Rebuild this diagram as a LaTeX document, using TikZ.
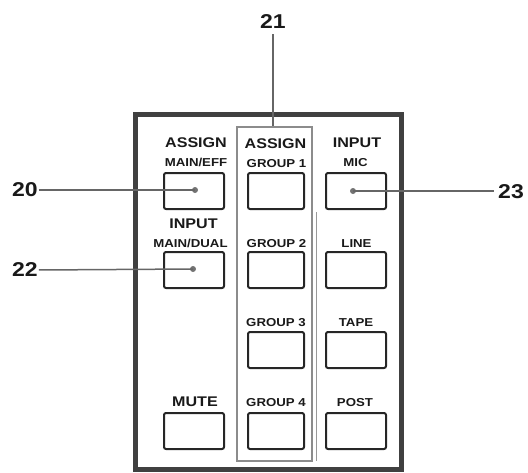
\documentclass[tikz,border=0pt]{standalone}
\usepackage{fontspec}
\setmainfont{Liberation Sans}[FakeStretch=1.15]
\begin{document}
\begin{tikzpicture}[x=1pt,y=-1pt,
  panel/.style={draw=black!75, line width=5pt, minimum width=266pt, minimum height=355pt, inner sep=0},
  grp/.style={draw=black!45, line width=2.5pt, minimum width=75pt, minimum height=334pt, inner sep=0},
  btn/.style={draw=black!85, line width=2pt, rounded corners=2pt, minimum height=36pt, inner sep=0},
  big/.style={font=\fontsize{14}{14}\selectfont\bfseries, anchor=base, inner sep=0, text=black!90},
  small/.style={font=\fontsize{11.5}{11.5}\selectfont\bfseries, anchor=base, inner sep=0, text=black!90},
  num/.style={font=\fontsize{20}{20}\selectfont\bfseries, inner sep=0, text=black!90},
  lead/.style={draw=black!60, line width=1.5pt},
  dotc/.style={circle, fill=black!55, minimum size=6pt, inner sep=0}]
\useasboundingbox (0,0) rectangle (528,472);
% panel and group frame
\node[panel] (panel) at (268,291.5) {};
\node[grp] (grp) at (274.5,294) {};
\draw[draw=black!40, line width=1pt] (316,212) -- (316,461);
% labels column 1
\node[big]   (lA1) at (196,147) {ASSIGN};
\node[small] (lME) at (196,166.5) {MAIN/EFF};
\node[big]   (lI1) at (193.5,228) {INPUT};
\node[small] (lMD) at (190.5,247) {MAIN/DUAL};
\node[big]   (lMU) at (195,406.5) {MUTE};
% labels column 2
\node[big]   (lA2) at (275.5,148) {ASSIGN};
\node[small] (lG1) at (276.5,167) {GROUP 1};
\node[small] (lG2) at (276.5,247) {GROUP 2};
\node[small] (lG3) at (276,326.5) {GROUP 3};
\node[small] (lG4) at (276,406.5) {GROUP 4};
% labels column 3
\node[big]   (lI3) at (357,147) {INPUT};
\node[small] (lMI) at (355.5,166) {MIC};
\node[small] (lLI) at (356.5,247) {LINE};
\node[small] (lTA) at (356,326.5) {TAPE};
\node[small] (lPO) at (355,406.5) {POST};
% buttons
\node[btn, minimum width=60pt] (bME) at (194,191) {};
\node[btn, minimum width=60pt] (bMD) at (194,270) {};
\node[btn, minimum width=60pt] (bMU) at (194,431) {};
\node[btn, minimum width=56pt] (bG1) at (276,191) {};
\node[btn, minimum width=56pt] (bG2) at (276,270) {};
\node[btn, minimum width=56pt] (bG3) at (276,350) {};
\node[btn, minimum width=56pt] (bG4) at (276,431) {};
\node[btn, minimum width=60pt] (bMI) at (356,191) {};
\node[btn, minimum width=60pt] (bLI) at (356,270) {};
\node[btn, minimum width=60pt] (bTA) at (356,350) {};
\node[btn, minimum width=60pt] (bPO) at (356,431) {};
% reference numbers
\node[num] (n20) at (25,190) {20};
\node[num] (n22) at (25,270) {22};
\node[num] (n23) at (511,192) {23};
\node[num] (n21) at (273,22) {21};
% leader dots
\node[dotc] (d20) at (195,190) {};
\node[dotc] (d22) at (193,269) {};
\node[dotc] (d23) at (353,191) {};
% leaders
\draw[lead, shorten <=1pt] (n20.east) -- (d20.center);
\draw[lead, shorten <=1pt] (n22.east) -- (d22.center);
\draw[lead, shorten >=4pt] (d23.center) -- (n23.west |- d23.center);
\draw[lead, shorten <=5pt] (n21.south) -- (n21.south |- grp.north);
\end{tikzpicture}
\end{document}
